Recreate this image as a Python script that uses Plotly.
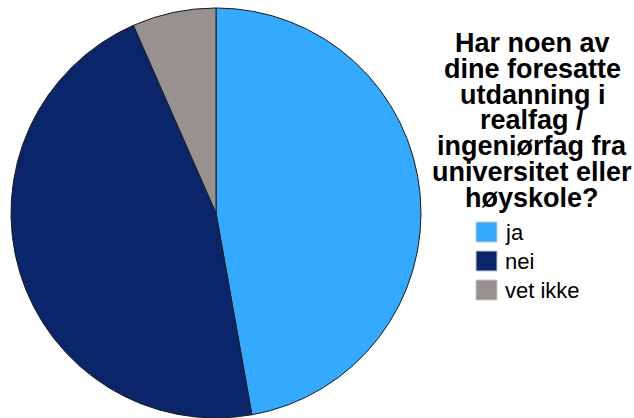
import plotly.graph_objects as go

labels = ["ja", "nei", "vet ikke"]
values = [47.2, 46.2, 6.6]
colors = ["#33aaff", "#0b256b", "#97918f"]
title_lines = ["Har noen av", "dine foresatte", "utdanning i", "realfag /",
               "ingeniørfag fra", "universitet eller", "høyskole?"]

W, H = 634, 418

fig = go.Figure()
fig.add_trace(go.Pie(
    labels=labels, values=values, sort=False, direction="clockwise", rotation=0,
    marker=dict(colors=colors, line=dict(color="#1a1a1a", width=1)),
    textinfo="none", hoverinfo="label+percent", showlegend=False,
    domain=dict(x=[11 / W, 421 / W], y=[0.0, 0.981]),
))

annotations = []
# title, one line per annotation to reproduce the tight line spacing of the reference
for i, line in enumerate(title_lines):
    base = 52 + i * 25.8
    annotations.append(dict(
        text="<b>" + line + "</b>", x=532 / W, y=1 - (base - 9) / H,
        xref="paper", yref="paper", xanchor="center", yanchor="middle",
        showarrow=False, font=dict(family="Liberation Sans, Arial", size=27, color="#000000"),
    ))

shapes = []
legend_y = [232, 261, 290]
for lab, col, cy in zip(labels, colors, legend_y):
    shapes.append(dict(type="rect", xref="paper", yref="paper",
                       x0=476 / W, x1=497 / W, y0=1 - (cy + 10) / H, y1=1 - (cy - 10) / H,
                       fillcolor=col, line=dict(color="#c8c8c8", width=1)))
    annotations.append(dict(
        text=lab, x=503 / W, y=1 - cy / H, xref="paper", yref="paper",
        xanchor="left", yanchor="middle", showarrow=False,
        font=dict(family="Liberation Sans, Arial", size=22, color="#000000"),
    ))

fig.update_layout(
    width=W, height=H, margin=dict(l=0, r=0, t=0, b=0),
    paper_bgcolor="white", plot_bgcolor="white",
    annotations=annotations, shapes=shapes, showlegend=False,
)

fig.write_html("out.html")
